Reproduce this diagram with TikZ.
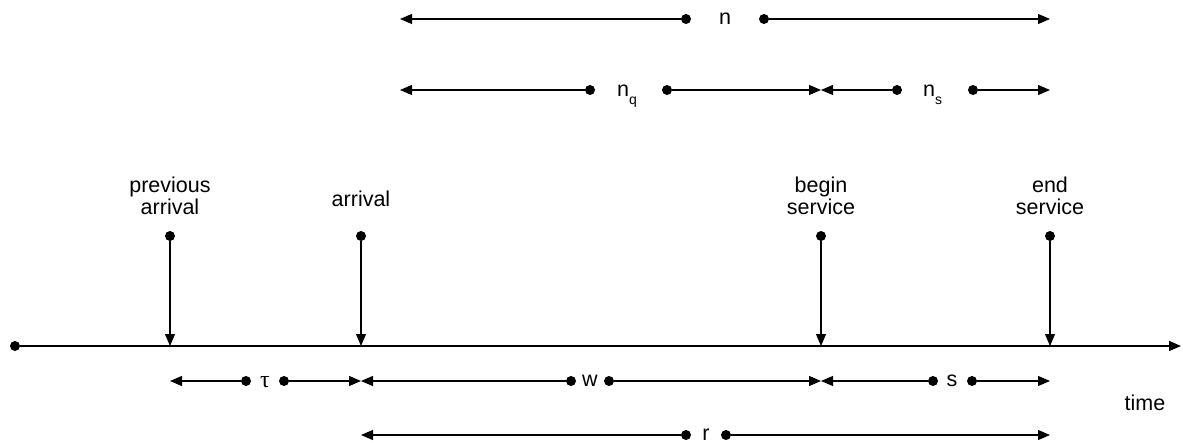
\documentclass[tikz,border=0pt]{standalone}
\usepackage{fontspec}
\setmainfont{Liberation Sans}
\newfontfamily\grfont{Liberation Serif}
\usetikzlibrary{arrows.meta}
\begin{document}
\begin{tikzpicture}[x=1pt,y=1pt,
  lab/.style={font=\fontsize{21.5}{22}\selectfont, inner sep=0pt},
  dot/.style={circle,fill=black,inner sep=0pt,minimum size=10pt},
  conn/.style={line width=1.1pt,-{Triangle[length=12pt,width=10pt]}}]
\useasboundingbox (0,0) rectangle (1183,442);
\newcommand{\subq}[2]{#1\raisebox{-8pt}{\fontsize{14}{14}\selectfont #2}}

% timeline
\node[dot] (t0) at (15,96) {};
\coordinate (t1) at (1181,96);
\draw[conn,line width=1.3pt] (t0) -- (t1);

% event markers
\node[dot] (pa) at (170,206) {};
\coordinate (pab) at (170,96);
\draw[conn] (pa) -- (pab);
\node[lab,align=center] (palab) at (170,246) {previous\\arrival};

\node[dot] (ar) at (361,206) {};
\coordinate (arb) at (361,96);
\draw[conn] (ar) -- (arb);
\node[lab] (arlab) at (361,243) {arrival};

\node[dot] (bs) at (821,206) {};
\coordinate (bsb) at (821,96);
\draw[conn] (bs) -- (bsb);
\node[lab,align=center] (bslab) at (821,246) {begin\\service};

\node[dot] (es) at (1050,206) {};
\coordinate (esb) at (1050,96);
\draw[conn] (es) -- (esb);
\node[lab,align=center] (eslab) at (1050,246) {end\\service};

% tau
\coordinate (tauL) at (170,61);
\coordinate (tauR) at (361,61);
\node[dot] (tau1) at (246,61) {};
\node[dot] (tau2) at (284,61) {};
\node[lab,font=\grfont\fontsize{24}{24}\selectfont] (taulab) at (265,60) {τ};
\draw[conn] (tau1) -- (tauL);
\draw[conn] (tau2) -- (tauR);

% w
\coordinate (wL) at (361,61);
\coordinate (wR) at (821,61);
\node[dot] (w1) at (571,61) {};
\node[dot] (w2) at (609,61) {};
\node[lab] (wlab) at (590,61) {w};
\draw[conn] (w1) -- (wL);
\draw[conn] (w2) -- (wR);

% s
\coordinate (sL) at (821,61);
\coordinate (sR) at (1050,61);
\node[dot] (s1) at (933,61) {};
\node[dot] (s2) at (972,61) {};
\node[lab] (slab) at (952,61) {s};
\draw[conn] (s1) -- (sL);
\draw[conn] (s2) -- (sR);

\node[lab] (time) at (1145,39) {time};

% r
\coordinate (rL) at (361,7);
\coordinate (rR) at (1050,7);
\node[dot] (r1) at (686,7) {};
\node[dot] (r2) at (726,7) {};
\node[lab] (rlab) at (706,7) {r};
\draw[conn] (r1) -- (rL);
\draw[conn] (r2) -- (rR);

% n
\coordinate (nL) at (400,423);
\coordinate (nR) at (1050,423);
\node[dot] (n1) at (686,423) {};
\node[dot] (n2) at (764,423) {};
\node[lab] (nlab) at (725,423) {n};
\draw[conn] (n1) -- (nL);
\draw[conn] (n2) -- (nR);

% nq
\coordinate (nqL) at (400,352);
\coordinate (nqR) at (821,352);
\node[dot] (nq1) at (590,352) {};
\node[dot] (nq2) at (667,352) {};
\node[lab,anchor=base west] (nqlab) at (617,345) {\subq{n}{q}};
\draw[conn] (nq1) -- (nqL);
\draw[conn] (nq2) -- (nqR);

% ns
\coordinate (nsL) at (821,352);
\coordinate (nsR) at (1050,352);
\node[dot] (ns1) at (897,352) {};
\node[dot] (ns2) at (973,352) {};
\node[lab,anchor=base west] (nslab) at (923,345) {\subq{n}{s}};
\draw[conn] (ns1) -- (nsL);
\draw[conn] (ns2) -- (nsR);
\end{tikzpicture}
\end{document}
